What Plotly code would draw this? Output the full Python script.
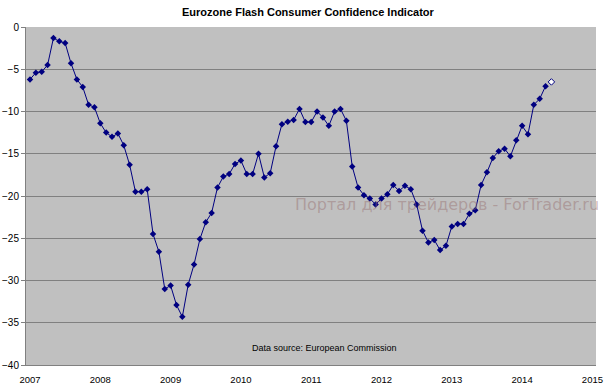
import plotly.graph_objects as go

# Monthly values, Jan 2007 .. May 2014
years = [2007, 2008, 2009, 2010, 2011, 2012, 2013, 2014, 2015]
year_labels = [str(y) for y in years]

values = [
    -6.2, -5.4, -5.3, -4.5, -1.3, -1.7, -1.9, -4.3, -6.2, -7.1, -9.2, -9.5,          # 2007
    -11.4, -12.5, -13.0, -12.6, -14.0, -16.3, -19.5, -19.5, -19.2, -24.5, -26.6, -31.0,  # 2008
    -30.6, -32.9, -34.3, -30.5, -28.1, -25.1, -23.1, -22.0, -19.0, -17.7, -17.4, -16.2,  # 2009
    -15.8, -17.4, -17.4, -15.0, -17.8, -17.3, -14.1, -11.5, -11.2, -11.0, -9.7, -11.25,  # 2010
    -11.25, -10.0, -10.7, -11.7, -10.0, -9.7, -11.1, -16.5, -19.0, -19.9, -20.3, -21.0,  # 2011
    -20.3, -19.8, -18.7, -19.4, -18.8, -19.2, -21.0, -24.1, -25.5, -25.2, -26.4, -25.9,  # 2012
    -23.6, -23.3, -23.3, -22.1, -21.7, -18.7, -17.2, -15.5, -14.7, -14.4, -15.3, -13.4,  # 2013
    -11.7, -12.7, -9.2, -8.5, -7.0,                                                   # 2014
]
flash_value = [-6.5]  # Jun 2014 flash estimate

x_main = [2007 + i / 12 for i in range(len(values))]
x_flash = [2007 + len(values) / 12]

NAVY = "#000080"
GRID = "#808080"
FONT = "Liberation Sans, Arial, sans-serif"

fig = go.Figure()
fig.add_trace(go.Scatter(
    x=x_main, y=values, mode="lines+markers",
    line=dict(color=NAVY, width=1),
    marker=dict(symbol="diamond", size=5, color=NAVY),
    showlegend=False, hoverinfo="skip",
))
fig.add_trace(go.Scatter(
    x=x_flash, y=flash_value, mode="markers",
    marker=dict(symbol="diamond", size=5, color="white", line=dict(color=NAVY, width=1)),
    showlegend=False, hoverinfo="skip",
))

xr = [2006.943, 2015.051]
fig.update_layout(
    width=608, height=390,
    margin=dict(l=26, r=12, t=27, b=25, autoexpand=False),
    paper_bgcolor="white",
    plot_bgcolor="#C0C0C0",
    font=dict(family=FONT, size=9, color="black"),
    xaxis=dict(
        range=xr, tickvals=years, ticktext=year_labels, automargin=False,
        showgrid=False, zeroline=False,
        showline=True, linecolor=GRID, linewidth=1,
        ticks="outside", ticklen=6, tickcolor="rgba(0,0,0,0)",
        tickfont=dict(family=FONT, size=9.5, color="black"),
    ),
    xaxis2=dict(
        range=xr, overlaying="x", side="top", anchor="y", automargin=False,
        tickvals=[y - 0.035 for y in years], showticklabels=False,
        showgrid=False, zeroline=False, showline=False,
        ticks="inside", ticklen=4, tickcolor=GRID,
    ),
    yaxis=dict(
        range=[-40, 0], dtick=5, tick0=0, automargin=False,
        showgrid=True, gridcolor=GRID, gridwidth=1,
        zeroline=False, showline=True, linecolor=GRID, linewidth=1,
        ticks="outside", ticklen=4, tickcolor=GRID,
        tickfont=dict(family=FONT, size=10, color="black"),
    ),
    annotations=[
        dict(text="<b>Eurozone Flash Consumer Confidence Indicator</b>",
             xref="paper", yref="paper", x=0.4955, y=1.043,
             xanchor="center", yanchor="middle", showarrow=False,
             font=dict(family=FONT, size=11, color="black")),
        dict(text="Data source: European Commission",
             xref="paper", yref="paper", x=0.523, y=0.050,
             xanchor="center", yanchor="middle", showarrow=False,
             font=dict(family=FONT, size=9, color="black")),
        dict(text="Портал для трейдеров - ForTrader.ru",
             xref="paper", yref="paper", x=0.7384, y=0.4749,
             xanchor="center", yanchor="middle", showarrow=False,
             font=dict(family="DejaVu Sans, Verdana, sans-serif", size=16,
                       color="rgba(150,110,110,0.45)")),
    ],
)

fig.write_html("out.html", config={"displayModeBar": False},
               post_script="document.body.style.margin='0';")
